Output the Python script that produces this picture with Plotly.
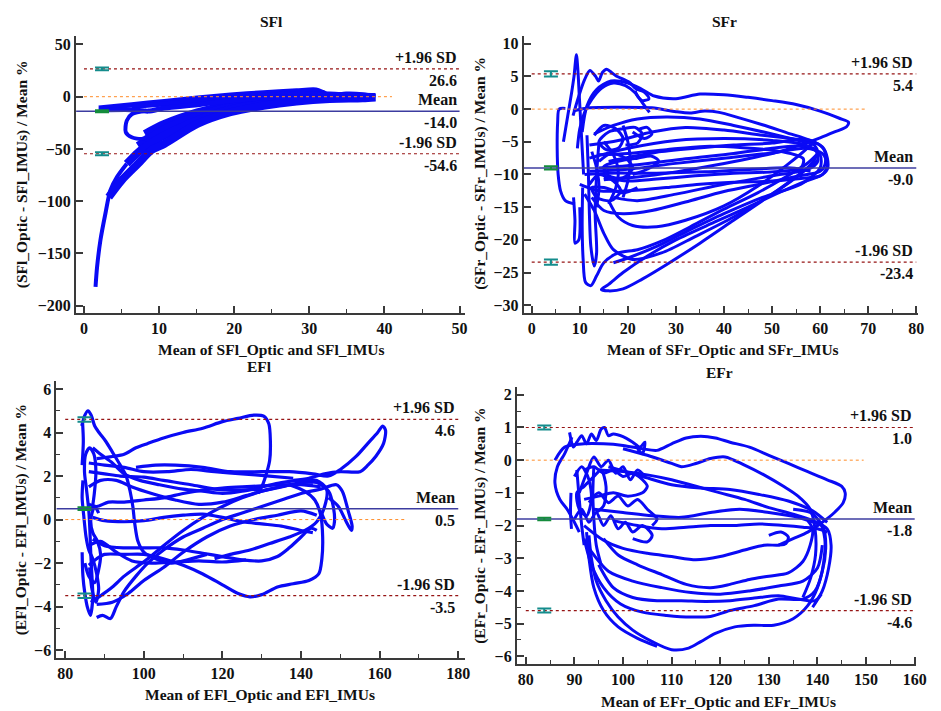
import plotly.graph_objects as go

FONT = "Liberation Serif, Times New Roman, Times, serif"
BLUE = "rgb(10,10,245)"

# ---------------- summary statistics (Bland-Altman) ----------------
PANEL_NAMES = ["SFl", "SFr", "EFl", "EFr"]
MEAN_DIFF = [-14.0, -9.0, 0.5, -1.8]
UPPER_LOA = [26.6, 5.4, 4.6, 1.0]
LOWER_LOA = [-54.6, -23.4, -3.5, -4.6]
CI_X = [2.4, 4.0, 84.9, 83.8]
CI_UPPER_HALF = [1.4, 0.4, 0.1, 0.06]
CI_MEAN_HALF = [1.0, 0.25, 0.06, 0.04]
CI_LOWER_HALF = [1.4, 0.4, 0.1, 0.06]

X_TITLES = ["Mean of SFl_Optic and SFl_IMUs", "Mean of SFr_Optic and SFr_IMUs",
            "Mean of EFl_Optic and EFl_IMUs", "Mean of EFr_Optic and EFr_IMUs"]
Y_TITLES = ["(SFl_Optic - SFl_IMUs) / Mean %", "(SFr_Optic - SFr_IMUs) / Mean %",
            "(EFl_Optic - EFl_IMUs) / Mean %", "(EFr_Optic - EFr_IMUs) / Mean %"]

X_TICKS = [[0, 10, 20, 30, 40, 50], [0, 10, 20, 30, 40, 50, 60, 70, 80],
           [80, 100, 120, 140, 160, 180], [80, 90, 100, 110, 120, 130, 140, 150, 160]]
Y_TICKS = [[-200, -150, -100, -50, 0, 50], [-30, -25, -20, -15, -10, -5, 0, 5, 10],
           [-6, -4, -2, 0, 2, 4, 6], [-6, -5, -4, -3, -2, -1, 0, 1, 2]]
ZERO_LINE_END = [41, 69.6, 166.6, 149.5]

# ---------------- SFl traces (mean, % difference) ----------------
SFL_TAIL = [(1.54, -181.9), (1.75, -162.8), (2.19, -137.4), (2.85, -112.0), (3.51, -89.7),
            (4.39, -77.0), (5.70, -64.2)]
SFL_LOW_U = [(8.1, -35.6), (10.7, -26.1), (15.1, -15.0), (19.5, -7.6), (23.9, -3.2), (28.3, -0.6),
             (32.7, 0.3), (37.1, 0.0), (38.8, -0.3)]
SFL_LOW_M1 = [(7.2, -47.0), (9.0, -38.5), (10.7, -31.0), (15.1, -18.5), (19.5, -9.8), (23.9, -4.6),
              (28.3, -2.0), (32.7, -0.8), (37.1, -0.4)]
SFL_LOW_M2 = [(5.7, -64.2), (7.24, -53.1), (9.0, -44.0), (10.7, -37.0), (15.1, -22.5), (19.5, -12.2),
              (23.9, -6.6), (28.3, -3.5), (32.7, -1.6), (37.1, -1.0)]
SFL_LOW_L = [(3.3, -96.1), (5.0, -80.2), (7.2, -64.2), (9.0, -51.0), (10.7, -45.2), (15.1, -26.1),
             (19.5, -14.9), (23.9, -8.6), (28.3, -4.5), (32.7, -2.2), (37.1, -1.6), (38.8, -0.8)]
SFL_UP_U = [(1.97, -10.8), (6.36, -7.6), (10.7, -4.5), (15.1, -1.3), (19.5, 1.6), (23.9, 3.8),
            (28.3, 5.7), (30.9, 6.4), (31.8, 4.1), (32.7, 1.0), (34.9, 2.5), (37.1, 1.9), (38.8, 0.0)]
SFL_UP_M = [(6.36, -9.5), (10.7, -7.0), (15.1, -4.2), (19.5, -1.0), (23.9, 1.2), (28.3, 3.0),
            (32.7, 2.5), (37.1, 0.5)]
SFL_UP_L = [(1.97, -12.7), (6.36, -12.4), (8.55, -13.8), (10.7, -10.8), (15.1, -7.6), (19.5, -3.8),
            (23.9, -1.3), (28.3, 0.0), (32.7, -0.6), (37.1, -1.0)]
SFL_LOOP = [(8.3, -13.4), (6.4, -16.5), (5.7, -22.9), (5.57, -34.0), (6.36, -38.8), (7.7, -40.4),
            (8.55, -37.2)]

# ---------------- SFr traces ----------------
SFR_A = [(10.5, -3.5), (11.5, 0.5), (13.5, 3.0), (16.5, 4.3), (20, 4.0), (23, 3.0), (25.5, 2.0), (30, 1.6),
         (35, 2.3), (40, 2.2), (45, 1.8), (50, 1.3), (55, 0.7), (60, -0.3), (64, -1.4), (65.9, -2.0),
         (65.5, -2.7), (63, -3.5), (60, -4.4), (57, -5.2), (52, -6.4), (45, -7.6), (38, -8.6), (30, -9.6),
         (22, -10.4), (15, -10.8)]
SFR_B = [(8.6, -0.3), (12, 0.2), (18, 0.3), (25, 0.2), (30, -0.4), (33, -0.6), (36, -0.3), (39, -0.5),
         (43, -1.3), (48, -2.4), (53, -3.6), (58, -4.8), (60.5, -5.8), (61.5, -7.5), (61.5, -9.2),
         (60, -10.2), (56, -10.6), (50, -11), (42, -11.2), (35, -11.5), (28, -12), (20, -12.5), (14, -12.5),
         (10, -11.5)]
SFR_C = [(12, -5.5), (18, -4.8), (25, -3.5), (32, -2.8), (40, -3.2), (48, -4), (55, -4.6), (59.5, -5.3),
         (61, -6.5), (61, -8.5), (60, -9.5), (55, -10.3), (48, -11.4), (40, -12.6), (32, -14.2), (25, -15.5),
         (19, -16), (15, -15.5), (12.5, -13.5)]
SFR_D = [(12, -9.5), (20, -9.2), (30, -8.3), (40, -7.5), (50, -6.7), (57, -6), (60.5, -6.8), (61.5, -8.5),
         (60.5, -10), (57, -11), (52, -12.6), (45, -15), (38, -17.3), (30, -20), (24, -22.5), (19, -25),
         (16, -26.8), (14.5, -27.6), (16, -27.8), (19, -27.5), (23, -26), (28, -23.8), (35, -20.5),
         (42, -17), (48, -14), (54, -11), (58, -8.5), (59.5, -6.5), (58.5, -5.2)]
SFR_E = [(10.6, -12), (10.5, -18), (10.7, -23), (11.2, -26.5), (12.3, -27), (13.5, -25.5), (15, -23.5),
         (18, -22), (22, -21.5), (27, -20.2), (33, -18), (40, -15.3), (47, -12.8), (53, -10.3),
         (57.5, -8.2), (59.5, -6.8)]
SFR_F = [(16, -14), (18, -16.5), (21, -17.8), (26, -18), (32, -17), (40, -14.8), (47, -11.8), (53, -8.6),
         (57, -6.2), (58.5, -5), (56, -4.6), (50, -5.2), (42, -5.5), (34, -6), (26, -6.6), (20, -7.4),
         (16, -8)]
SFR_G = [(13, -3.8), (17, -2.5), (22, -1.5), (28, -1.2), (35, -1.5), (42, -2.5), (50, -3.8), (56, -4.9),
         (59, -5.5)]
SFR_H = [(14, -7), (20, -6.8), (28, -6.2), (36, -5.7), (44, -5.9), (52, -6.5), (56.5, -7.6), (56, -9),
         (50, -9.6), (42, -9.8), (34, -10.2), (26, -10.7), (20, -11), (15, -10.5)]
SFR_I = [(11, -13), (13, -15.5), (15, -19), (17, -21.5), (21, -23), (27, -22), (34, -19.5), (42, -16.5),
         (50, -13), (56, -9.8), (59.5, -7.8)]
SFR_J = [(14, -9), (22, -8.5), (32, -7.6), (42, -6.8), (50, -6.0), (56, -5.6), (59, -6.2), (59.5, -8),
         (57.5, -9.2), (50, -10.2), (40, -11.5), (30, -13), (22, -14), (17, -13.5)]
SFR_K = [(12, -7.5), (20, -6), (30, -4.8), (40, -4.5), (50, -4.8), (57, -5.5), (60, -7), (60, -9),
         (56, -11.5), (48, -13.5), (40, -16), (32, -18.8), (26, -21), (21, -22.5), (17, -23.5)]
SFR_L = [(11, -10), (16, -9.8), (26, -9.8), (36, -9.6), (46, -9.2), (54, -9), (58, -9.5)]
SFR_SPIKE = [(6.6, -5), (7.5, -1), (8.3, 2.5), (8.8, 5), (9.3, 8.3), (9.6, 6), (9.9, 2), (10.2, -2),
             (10.5, -6), (10.8, -10)]
SFR_TOP = [(8.6, -1), (9.8, 2), (11, 4.5), (12.1, 5.9), (13.3, 5.0), (13.9, 4.3), (14.7, 5.6),
           (15.6, 6.1), (16.6, 5.6), (17.5, 5.1), (20.3, 4.1), (21.7, 3.1), (23.4, 2.6), (24.4, 1.6),
           (23.0, 1.3), (22.0, 2.0), (21.5, 2.8)]
SFR_ARC = [(9.5, -6), (10, -3), (11, -0.5), (12.5, 1.5), (14.5, 3.2), (17, 4.0), (19.5, 3.6), (21.5, 2.5),
           (23, 1.0), (24.5, -0.5)]
SFR_LEFT = [(9, -14.5), (7, -14), (6, -12.5), (5.5, -10), (5.3, -6), (5.4, -2), (5.7, 0), (7, 0.1)]
SFR_CL1 = [(13, -4), (15, -2.5), (17.5, -3), (19, -4.5), (18, -6), (15.5, -6.2), (14, -5), (16, -3.5),
           (19, -3), (21.5, -2.8), (23, -3.8), (22, -5.2), (19.5, -5.5)]
SFR_CL2 = [(14, -8), (16.5, -6.8), (19.5, -7.5), (21, -9), (19, -10.5), (16, -10.2), (15, -8.8), (18, -8),
           (22, -7.5), (25, -7.2), (26.5, -8), (24, -9.2), (21, -10)]
SFR_CL3 = [(12, -11.5), (14, -10), (17, -11), (18.5, -12.5), (16.5, -14), (13.5, -13.5), (12.5, -12),
           (15, -12), (19, -12.8), (22, -12)]
SFR_CL4 = [(15, -5), (17, -7), (18, -9.5), (17.5, -12), (16, -14.5)]
SFR_CL5 = [(19, -2.5), (20, -5), (20.5, -8), (20, -11), (19, -13.5)]
SFR_CL6 = [(21, -3.5), (23.5, -4.5), (25, -3.8), (24, -2.8), (22, -3.2)]
SFR_CL7 = [(12.5, -6.5), (13.5, -9), (14, -12), (13.5, -15)]
SFR_VERT = [(11.5, -4), (11.8, -10), (12, -16), (12.3, -21), (13, -24), (13.5, -22), (13.2, -16),
            (13.5, -10), (14, -5)]
SFR_VERT2 = [(8.7, -13.5), (9, -17), (9, -20.5), (9.8, -20), (10, -15)]

# ---------------- EFl traces ----------------
EFL_A = [(84.2, 4.3), (85, 4.8), (85.8, 5.0), (86.6, 4.8), (87.5, 4.3), (88.6, 4.0), (90.3, 3.6),
         (92, 3.1), (94, 2.5), (95.5, 2.0), (96.5, 1.3), (97.2, 0.6), (97.7, -0.2), (98.5, -1.0),
         (100, -1.5), (103, -1.8), (107, -2.0), (112, -1.8), (116, -1.6)]
EFL_B = [(88, 2.8), (92, 2.9), (95, 3.0), (98, 3.3), (101, 3.5), (105, 3.75), (110, 4.0), (115, 4.2),
         (120, 4.5), (124, 4.65), (128, 4.8), (130.5, 4.75), (131.8, 4.4), (132.2, 3.6), (132, 2.7),
         (131, 2.0), (130, 1.5), (129, 1.2)]
EFL_C = [(98, 2.4), (103, 2.5), (108, 2.5), (115, 2.4), (122, 2.2), (130, 2.2), (137, 2.2), (143, 2.1),
         (147, 2.0), (150, 2.3), (154, 2.9), (157, 3.5), (159.5, 4.0), (160.8, 4.3), (161.5, 4.1),
         (161, 3.5), (159, 2.9), (157, 2.5), (155, 2.2), (150, 2.2), (146, 2.1), (142, 1.9), (138, 1.8)]
EFL_D = [(86, -2.1), (88, -1.8), (90, -1.6), (95, -1.6), (100, -1.6), (105, -1.8), (110, -2.1),
         (115, -2.5), (120, -3.0), (124, -3.4), (127, -3.55), (130, -3.45), (134, -3.1), (138, -2.95),
         (142, -2.8), (144.5, -2.5), (145.3, -1.8), (145.5, -0.8), (145, 0.2), (143.5, 0.9), (141, 1.3),
         (137, 1.6)]
EFL_E = [(86.5, -3.8), (89, -3.5), (92, -3.1), (95, -2.6), (98, -2.2), (101, -1.8), (105, -1.2),
         (110, -0.5), (115, 0.1), (120, 0.6), (125, 1.0), (130, 1.3), (135, 1.5), (140, 1.7), (144, 1.7),
         (147, 1.3), (148.2, 0.6), (148.5, -0.1), (148, -0.4), (146.5, -0.2), (145, 0.4)]
EFL_F = [(88, -4.5), (89.5, -4.4), (91.5, -4.55), (93, -4.0), (95, -3.3), (98, -2.6), (101, -2.0),
         (105, -1.4), (110, -0.8), (115, -0.4), (120, 0.0), (125, 0.3), (130, 0.6), (135, 0.9),
         (140, 1.2), (145, 1.4), (149, 1.6), (150.5, 1.3), (152, 0.4), (153, -0.3), (152.8, -0.5),
         (151.5, -0.1), (149.5, 0.6), (147, 1.0)]
EFL_G = [(87, 3.3), (89, 3.0), (92, 2.6), (95, 2.1), (99, 1.8), (104, 1.6), (110, 1.4), (115, 1.3),
         (120, 1.2), (125, 1.3), (130, 1.5), (135, 1.7), (140, 1.8), (144, 1.8), (146.5, 1.4),
         (146, 0.6), (144, -0.1), (141, -0.5), (137, -0.8), (132, -1.1), (127, -1.4), (122, -1.6),
         (118, -1.8)]
EFL_H = [(87, -0.9), (90, -1.2), (95, -1.3), (100, -1.3), (105, -1.3), (110, -1.4), (115, -1.55),
         (120, -1.7), (125, -1.85), (130, -1.9), (134, -1.7), (137, -1.3), (140, -0.8), (142.5, -0.4),
         (144, -0.5)]
EFL_I = [(86, 0.7), (88, 0.6), (91, 0.8), (95, 0.8), (100, 0.9), (105, 1.0), (110, 1.2), (115, 1.35),
         (120, 1.45), (125, 1.5), (130, 1.55), (135, 1.6), (140, 1.6), (145, 1.5)]
EFL_J = [(87, 0.1), (90, -0.05), (95, -0.1), (100, -0.05), (105, 0.1), (110, 0.2), (115, 0.25),
         (120, 0.1), (125, -0.1), (130, -0.2), (135, -0.3), (140, -0.5), (143, -0.6)]
EFL_K = [(86, 2.2), (90, 2.1), (94, 2.0), (100, 1.95), (105, 1.8), (112, 1.6), (118, 1.4),
         (124, 1.35), (130, 1.4)]
EFL_M = [(86, 1.5), (89, 1.8), (93, 1.8), (97, 1.5), (102, 1.2), (108, 0.9), (114, 0.7), (120, 0.8),
         (126, 1.1), (132, 1.4), (138, 1.6), (143, 1.6)]
EFL_N = [(86, -1.2), (89, -1.0), (93, -1.5), (97, -1.9), (102, -2.0), (108, -1.95), (114, -1.9),
         (120, -1.95), (126, -1.85)]
EFL_O = [(88, -3.9), (92, -3.8), (96, -3.4), (100, -2.8), (105, -2.2), (110, -1.5), (116, -0.8),
         (122, -0.3), (128, 0.0), (134, 0.2), (140, 0.4), (144, 0.2)]
EFL_P = [(86, 2.6), (90, 2.5), (95, 2.4), (100, 2.2), (106, 2.2), (112, 2.3), (118, 2.2), (125, 2.1),
         (132, 2.0), (138, 1.9)]
EFL_L1 = [(84.3, -1.5), (84.5, -2.6), (85, -3.4), (85.6, -4.0), (86.4, -4.4), (87, -3.6), (86.8, -2.6),
          (86.5, -1.6), (86.3, -0.6), (86, 0.4), (85.4, 1.4), (84.9, 2.2), (85.2, 3.0), (86.2, 3.3),
          (87.3, 3.0), (87.8, 2.2), (87.4, 1.2), (86.8, 0.4)]
EFL_L2 = [(84.5, 1.8), (84.3, 1.0), (84.7, 0.2), (85.3, -0.8), (86, -1.4), (87, -1.8), (88, -2.5),
          (88.5, -3.2), (87.8, -3.8), (86.8, -3.2), (86.2, -2.2)]
EFL_L3 = [(85, -2.0), (86, -2.6), (87.5, -2.9), (88.5, -2.3), (89, -1.6), (88.2, -1.0), (87, -0.6),
          (86.5, 0.0), (87.5, 0.6), (88.5, 0.3)]
EFL_L4 = [(84.3, 2.5), (84.6, 3.6), (84.4, 4.5)]

# ---------------- EFr traces ----------------
EFR_A = [(86, 0.0), (88, 0.4), (92, 0.5), (96, 0.5), (100, 0.45), (104, 0.35), (107, 0.3), (110, 0.5),
         (113, 0.68), (116, 0.73), (119, 0.68), (122, 0.55), (126, 0.4), (130, 0.15), (134, -0.1),
         (138, -0.35), (142, -0.6), (145, -0.8), (145.7, -1.0), (145.3, -1.3), (143.5, -1.6), (141, -1.9),
         (138, -2.2), (135, -2.4), (132, -2.6)]
EFR_B = [(93, -2.3), (93.5, -3.0), (94.5, -3.7), (96.5, -4.3), (99, -4.8), (102, -5.2), (106, -5.55),
         (110, -5.8), (113.5, -5.75), (116, -5.55), (119, -5.3), (123, -5.1), (127, -5.05), (131, -5.05),
         (135, -4.85), (138, -4.45), (140, -3.9), (141.3, -3.1), (141.5, -2.4), (140.5, -1.9),
         (138.5, -1.6), (135, -1.5)]
EFR_C = [(92, -2.4), (93.5, -3.2), (96, -3.9), (99.5, -4.4), (104, -4.65), (109, -4.75), (114, -4.8),
         (118, -4.78), (122, -4.6), (127, -4.45), (132, -4.25), (137, -4.25), (139.5, -4.0), (141, -3.4),
         (141.7, -2.7), (141.3, -2.1), (140, -1.8)]
EFR_D = [(95, -3.2), (98, -3.9), (102, -4.2), (107, -4.3), (112, -4.3), (117, -4.32), (122, -4.3),
         (127, -4.22), (132, -4.15), (136, -4.25), (139.5, -4.3), (140.8, -4.1)]
EFR_E = [(96, -2.4), (99, -2.9), (103, -3.2), (108, -3.5), (113, -3.8), (118, -3.9), (122, -3.8),
         (126, -3.65), (130, -3.55), (134, -3.45), (137, -3.1), (138.5, -2.6), (139, -2.1), (138, -1.85)]
EFR_F = [(92, -2.0), (96, -2.45), (100, -2.7), (105, -2.85), (110, -2.95), (115, -3.05), (120, -2.95),
         (125, -2.75), (129, -2.6), (132, -2.6), (133.5, -2.55), (134, -2.35), (132.5, -2.2), (130, -2.3)]
EFR_G = [(98, -1.85), (103, -2.0), (108, -2.1), (113, -2.05), (118, -2.0), (123, -2.0), (128, -1.95),
         (133, -2.0), (137, -2.05), (140, -2.1), (142, -2.2)]
EFR_H = [(95, -0.3), (100, -0.35), (105, -0.45), (110, -0.6), (115, -0.8), (120, -1.0), (125, -1.2),
         (130, -1.45), (135, -1.65), (139, -1.85), (142, -2.1), (142.8, -2.6), (142.3, -3.3), (141, -4.0),
         (139, -4.5)]
EFR_I = [(97, -0.2), (104, -0.5), (110, -0.75), (116, -0.85), (122, -0.9), (128, -1.05), (134, -1.25),
         (139, -1.55), (142, -1.9)]
EFR_J = [(100, 0.35), (105, 0.15), (110, -0.1), (112, -0.2), (115, -0.1), (118, 0.05), (121, 0.1),
         (125, -0.15), (129, -0.45), (133, -0.8), (136, -1.1), (138.5, -1.5), (139.5, -2.1), (139.6, -2.9),
         (138.6, -3.6), (137, -4.2)]
EFR_K = [(89, 0.85), (89.8, 0.4), (90.5, 0.55), (91.5, 0.75), (92.5, 0.5), (93.5, 0.8), (94.5, 0.6),
         (95.5, 0.95), (96.2, 1.0), (97, 0.75), (98, 0.8), (100, 0.72), (102, 0.55), (103.5, 0.4),
         (104.5, 0.55), (104, 0.2), (103, 0.35)]
EFR_L = [(89.5, 0.7), (88, 0.2), (86.5, -0.2), (86, -0.7), (87, -1.2), (88.5, -1.5), (90, -1.9), (91, -2.2)]
EFR_M = [(94, -1.5), (100, -1.6), (106, -1.7), (112, -1.75), (118, -1.6), (124, -1.5), (130, -1.6),
         (136, -1.75), (141, -2.0)]
EFR_N = [(93, -2.7), (97, -3.4), (102, -3.7), (108, -3.9), (114, -4.05), (120, -4.1), (126, -4.0),
         (132, -3.85), (137, -3.7), (140, -3.3), (141, -2.6)]
EFR_O = [(92.5, -2.2), (93, -3.0), (94, -3.9), (96, -4.6), (99, -5.1), (103, -5.45), (107, -5.7)]
EFR_CL1 = [(90, -0.5), (91.5, -0.2), (93, -0.6), (93.5, -1.2), (92.5, -1.7), (91, -1.5), (90.5, -1.0),
           (92, -0.8), (94, -0.5), (95.5, -0.3), (96.5, -0.8), (96, -1.4), (94.5, -1.6)]
EFR_CL2 = [(90, -1.8), (91.5, -1.5), (93, -1.9), (94.5, -1.6), (96, -2.0), (97.5, -1.7), (99, -2.1),
           (100.5, -1.9), (102, -2.2), (104, -2.0), (106, -2.3), (105, -2.5), (102, -2.4)]
EFR_CL3 = [(92, -0.3), (94, -0.2), (96, -0.4), (98, -0.3), (100, -0.5), (102, -0.4), (104, -0.6),
           (105, -0.8), (104, -1.0), (101, -1.1), (98, -1.0), (95, -1.1), (92, -1.2)]
EFR_CL4 = [(91, -1.0), (92.5, -0.4), (94, 0.1), (95.5, -0.2), (97, 0.0), (98.5, -0.4), (100, -0.2),
           (101.5, -0.6), (103, -0.3), (104.5, -0.5)]
EFR_CL5 = [(93, -1.3), (95, -1.0), (97, -1.3), (99, -1.1), (101, -1.4), (103, -1.2), (105, -1.5),
           (107, -1.8), (106, -2.0)]
EFR_V1 = [(90.5, -0.3), (91, -1.2), (91.5, -2.0), (92, -2.6)]
EFR_V2 = [(94, -0.2), (93.8, -1.0), (94, -1.8), (94.5, -2.6), (95.5, -3.2)]
EFR_V3 = [(89.3, -1.0), (89.2, -1.6), (89.4, -2.1)]

# ---------------- layout geometry ----------------
X_RANGES = [[-1.05, 50.66], [-1.65, 80.4], [77.74, 181.6], [78.17, 160.3]]
Y_RANGES = [[-207.1, 58.2], [-31.2, 11.2], [-6.37, 6.37], [-6.24, 2.25]]
X_DOMAINS = [[0.0818, 0.4995], [0.5632, 0.9873], [0.0606, 0.4995], [0.5558, 0.9851]]
Y_DOMAINS = [[0.5598, 0.9508], [0.5598, 0.9508], [0.0731, 0.4641], [0.0647, 0.4561]]
X_MINOR = [5, 5, 10, 5]
Y_MINOR = [None, None, 1, 0.5]


def flat(segments):
    xs, ys = [], []
    for seg in segments:
        xs += [p[0] for p in seg] + [None]
        ys += [p[1] for p in seg] + [None]
    return xs, ys


fig = go.Figure()


def add_paths(segments, k, width=3.0):
    xs, ys = flat(segments)
    sfx = "" if k == 0 else str(k + 1)
    fig.add_trace(go.Scatter(x=xs, y=ys, mode="lines", xaxis="x" + sfx, yaxis="y" + sfx,
                             line=dict(color=BLUE, width=width, shape="spline", smoothing=0.8),
                             hoverinfo="skip", showlegend=False))


# SFl
add_paths([SFL_TAIL], 0, 4)
add_paths([SFL_LOW_U, SFL_LOW_M1, SFL_LOW_M2, SFL_LOW_L], 0, 8)
add_paths([SFL_UP_U, SFL_UP_M, SFL_UP_L], 0, 5)
add_paths([SFL_LOOP], 0, 4)
# SFr
add_paths([SFR_A, SFR_B, SFR_C, SFR_D, SFR_E, SFR_F, SFR_G, SFR_H, SFR_I, SFR_J, SFR_K, SFR_L, SFR_SPIKE,
           SFR_TOP, SFR_ARC, SFR_LEFT, SFR_CL1, SFR_CL2, SFR_CL3, SFR_CL4, SFR_CL5, SFR_CL6, SFR_CL7,
           SFR_VERT, SFR_VERT2], 1, 3)
# EFl
add_paths([EFL_A, EFL_B, EFL_C, EFL_D, EFL_E, EFL_F, EFL_G, EFL_H, EFL_I, EFL_J, EFL_K, EFL_M, EFL_N,
           EFL_O, EFL_P, EFL_L1, EFL_L2, EFL_L3, EFL_L4], 2, 3.2)
# EFr
add_paths([EFR_A, EFR_B, EFR_C, EFR_D, EFR_E, EFR_F, EFR_G, EFR_H, EFR_I, EFR_J, EFR_K, EFR_L, EFR_M,
           EFR_N, EFR_O, EFR_CL1, EFR_CL2, EFR_CL3, EFR_CL4, EFR_CL5, EFR_V1, EFR_V2, EFR_V3], 3, 3)

annotations = []
layout_axes = {}
TXT = dict(family=FONT, size=16, color="#111111", weight="bold")

for k in range(4):
    sfx = "" if k == 0 else str(k + 1)
    xa, ya = "x" + sfx, "y" + sfx
    x0, x1 = X_TICKS[k][0], X_TICKS[k][-1]
    fig.add_trace(go.Scatter(x=[x0, ZERO_LINE_END[k]], y=[0, 0], mode="lines", xaxis=xa, yaxis=ya,
                             line=dict(color="rgb(255,140,40)", width=1, dash="dot"),
                             hoverinfo="skip", showlegend=False))
    for val in (UPPER_LOA[k], LOWER_LOA[k]):
        fig.add_trace(go.Scatter(x=[x0, x1], y=[val, val], mode="lines", xaxis=xa, yaxis=ya,
                                 line=dict(color="rgb(150,20,20)", width=1.2, dash="dot"),
                                 hoverinfo="skip", showlegend=False))
    fig.add_trace(go.Scatter(x=[X_RANGES[k][0], x1], y=[MEAN_DIFF[k], MEAN_DIFF[k]], mode="lines",
                             xaxis=xa, yaxis=ya, line=dict(color="rgb(60,60,160)", width=1.5),
                             hoverinfo="skip", showlegend=False))
    fig.add_trace(go.Scatter(x=[CI_X[k], CI_X[k]], y=[UPPER_LOA[k], LOWER_LOA[k]], mode="markers",
                             xaxis=xa, yaxis=ya, marker=dict(size=1, color="rgba(0,0,0,0)"),
                             error_y=dict(type="data", array=[CI_UPPER_HALF[k], CI_LOWER_HALF[k]],
                                          color="rgb(20,140,140)", thickness=2, width=7),
                             hoverinfo="skip", showlegend=False))
    fig.add_trace(go.Scatter(x=[CI_X[k]], y=[MEAN_DIFF[k]], mode="markers",
                             xaxis=xa, yaxis=ya, marker=dict(size=1, color="rgba(0,0,0,0)"),
                             error_y=dict(type="data", array=[CI_MEAN_HALF[k]],
                                          color="rgb(20,140,60)", thickness=2, width=7),
                             hoverinfo="skip", showlegend=False))
    for val, top, bottom in ((UPPER_LOA[k], "+1.96 SD", f"{UPPER_LOA[k]:.1f}"),
                             (MEAN_DIFF[k], "Mean", f"{MEAN_DIFF[k]:.1f}"),
                             (LOWER_LOA[k], "-1.96 SD", f"{LOWER_LOA[k]:.1f}")):
        annotations.append(dict(x=x1, y=val, xref=xa, yref=ya, text=top, showarrow=False,
                                xanchor="right", yanchor="bottom", yshift=1, xshift=-1, font=TXT))
        annotations.append(dict(x=x1, y=val, xref=xa, yref=ya, text=bottom, showarrow=False,
                                xanchor="right", yanchor="top", yshift=-1, xshift=-1, font=TXT))

    axis_common = dict(showgrid=False, zeroline=False, showline=True, linewidth=2, linecolor="#3a3a3a",
                       ticks="inside", ticklen=7, tickwidth=1.5, tickcolor="#3a3a3a",
                       tickfont=dict(family=FONT, size=16, color="#111111", weight="bold"))
    xminor = dict(ticks="inside", ticklen=4, tickwidth=1.2, tickcolor="#3a3a3a", dtick=X_MINOR[k],
                  tick0=0, showgrid=False)
    layout_axes["xaxis" + sfx] = dict(axis_common, range=X_RANGES[k], domain=X_DOMAINS[k],
                                      tickvals=X_TICKS[k], anchor=ya, minor=xminor)
    ydict = dict(axis_common, range=Y_RANGES[k], domain=Y_DOMAINS[k], tickvals=Y_TICKS[k], anchor=xa)
    if Y_MINOR[k]:
        ydict["minor"] = dict(ticks="inside", ticklen=4, tickwidth=1.2, tickcolor="#3a3a3a",
                              dtick=Y_MINOR[k], tick0=0, showgrid=False)
    layout_axes["yaxis" + sfx] = ydict

W, H = 941, 711
TITLE_POS = [(275, 21), (733, 21), (263, 367), (728, 373)]
XT_POS = [(274, 349), (732, 349), (263, 695), (727, 702)]
YT_POS = [(22, 174), (485, 173), (21, 520), (485, 526)]
for k in range(4):
    annotations.append(dict(x=TITLE_POS[k][0] / W, y=1 - TITLE_POS[k][1] / H, xref="paper", yref="paper",
                            text=PANEL_NAMES[k], showarrow=False, font=dict(TXT, size=15.5),
                            xanchor="center", yanchor="middle"))
    annotations.append(dict(x=XT_POS[k][0] / W, y=1 - XT_POS[k][1] / H, xref="paper", yref="paper",
                            text=X_TITLES[k], showarrow=False, font=dict(TXT, size=15.5),
                            xanchor="center", yanchor="middle"))
    annotations.append(dict(x=YT_POS[k][0] / W, y=1 - YT_POS[k][1] / H, xref="paper", yref="paper",
                            text=Y_TITLES[k], showarrow=False, font=dict(TXT, size=15.5), textangle=-90,
                            xanchor="center", yanchor="middle"))

fig.update_layout(width=W, height=H, margin=dict(l=0, r=0, t=0, b=0), paper_bgcolor="white",
                  plot_bgcolor="white", showlegend=False, annotations=annotations,
                  font=dict(family=FONT, weight="bold"), **layout_axes)

fig.write_html("out.html", config={"displayModeBar": False})
